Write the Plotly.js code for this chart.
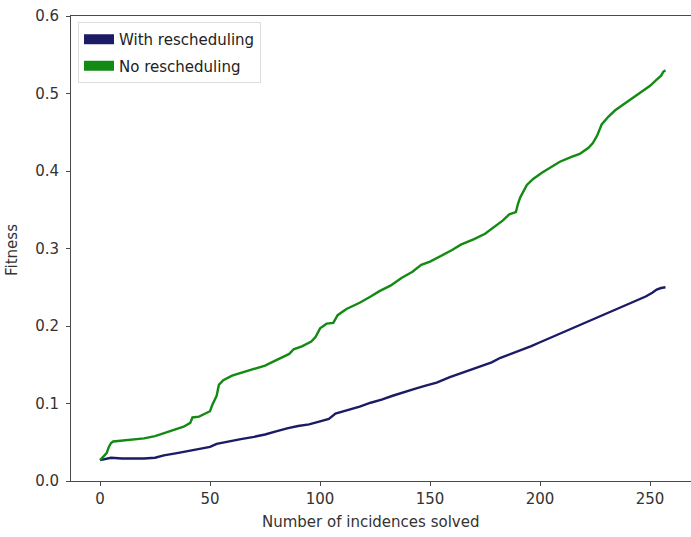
<!DOCTYPE html>
<html>
<head>
<meta charset="utf-8">
<script src="https://cdn.plot.ly/plotly-3.0.1.min.js"></script>
<style>
  html, body { margin: 0; padding: 0; background: #fff; }
  #chart { width: 691px; height: 537px; }
</style>
</head>
<body>
<div id="chart"></div>
<script>
// Fitness as incidences are solved, with and without rescheduling
const incidencesNoResched = [0, 2, 3, 4, 5, 6, 10, 15, 20, 25, 28, 33, 38, 41, 42, 45, 48, 50, 51, 53, 54, 56, 60, 65, 70, 75, 78, 82, 86, 88, 92, 96, 98, 100, 103, 106, 108, 112, 118, 123, 127, 132, 137, 142, 146, 150, 155, 160, 164, 170, 175, 179, 183, 186, 189, 190, 191, 194, 197, 201, 205, 209, 214, 218, 222, 224, 226, 228, 231, 234, 238, 242, 246, 250, 253, 255, 256, 257];
const fitnessNoResched = [0.027, 0.034, 0.036, 0.044, 0.049, 0.051, 0.052, 0.053, 0.055, 0.058, 0.061, 0.066, 0.070, 0.075, 0.082, 0.083, 0.087, 0.090, 0.098, 0.110, 0.124, 0.130, 0.136, 0.140, 0.145, 0.149, 0.153, 0.158, 0.164, 0.170, 0.174, 0.180, 0.186, 0.197, 0.203, 0.204, 0.214, 0.222, 0.230, 0.238, 0.245, 0.252, 0.262, 0.270, 0.279, 0.283, 0.290, 0.298, 0.305, 0.312, 0.319, 0.327, 0.336, 0.344, 0.347, 0.358, 0.366, 0.382, 0.390, 0.398, 0.405, 0.412, 0.418, 0.422, 0.430, 0.436, 0.446, 0.460, 0.470, 0.478, 0.486, 0.494, 0.503, 0.510, 0.518, 0.523, 0.528, 0.530];

const incidencesResched = [0, 3, 5, 10, 15, 20, 25, 29, 35, 41, 47, 50, 53, 58, 64, 70, 75, 80, 85, 90, 95, 100, 104, 107, 112, 118, 123, 128, 133, 138, 143, 148, 153, 159, 164, 170, 175, 178, 182, 187, 192, 196, 200, 204, 208, 212, 216, 220, 224, 228, 232, 236, 240, 244, 248, 251, 253, 255, 257];
const fitnessResched = [0.027, 0.029, 0.030, 0.029, 0.029, 0.029, 0.030, 0.033, 0.036, 0.039, 0.042, 0.044, 0.048, 0.051, 0.054, 0.057, 0.060, 0.064, 0.068, 0.071, 0.073, 0.077, 0.080, 0.087, 0.091, 0.096, 0.101, 0.105, 0.110, 0.115, 0.119, 0.123, 0.127, 0.134, 0.139, 0.144, 0.149, 0.153, 0.159, 0.164, 0.169, 0.174, 0.179, 0.184, 0.188, 0.193, 0.198, 0.203, 0.208, 0.213, 0.218, 0.223, 0.228, 0.234, 0.238, 0.243, 0.247, 0.249, 0.250];

const seriesNames = ['With rescheduling', 'No rescheduling'];
const xTicks = [0, 50, 100, 150, 200, 250];
const yTicks = [0.0, 0.1, 0.2, 0.3, 0.4, 0.5, 0.6];

const colorResched = '#1b1b66';
const colorNoResched = '#138a13';
const font = 'DejaVu Sans, Verdana, sans-serif';
const fontSize = 15;

const traces = [
  {
    x: incidencesResched, y: fitnessResched, type: 'scatter', mode: 'lines',
    name: seriesNames[0], legendgroup: 'a',
    line: { color: colorResched, width: 2.4 }, showlegend: false
  },
  {
    x: incidencesNoResched, y: fitnessNoResched, type: 'scatter', mode: 'lines',
    name: seriesNames[1], legendgroup: 'b',
    line: { color: colorNoResched, width: 2.4 }, showlegend: false
  },
  // legend swatches drawn as thick lines (filled-rectangle look)
  {
    x: [null], y: [null], type: 'scatter', mode: 'lines', name: seriesNames[0],
    legendgroup: 'a', line: { color: colorResched, width: 10 }, hoverinfo: 'skip'
  },
  {
    x: [null], y: [null], type: 'scatter', mode: 'lines', name: seriesNames[1],
    legendgroup: 'b', line: { color: colorNoResched, width: 10 }, hoverinfo: 'skip'
  }
];

const axisCommon = {
  showgrid: false, zeroline: false,
  showline: true, linecolor: '#4a4a4a', linewidth: 1, mirror: true,
  ticks: 'outside', ticklen: 4, tickwidth: 1, tickcolor: '#4a4a4a',
  tickfont: { family: font, size: fontSize, color: '#333' }
};

const layout = {
  width: 691, height: 537,
  margin: { l: 71, r: 0, t: 16, b: 56 },
  paper_bgcolor: '#fff', plot_bgcolor: '#fff',
  font: { family: font, color: '#222' },
  xaxis: Object.assign({}, axisCommon, {
    range: [-13.2, 268.6], tickvals: xTicks, ticktext: xTicks.map(String)
  }),
  yaxis: Object.assign({}, axisCommon, {
    range: [0, 0.6], tickvals: yTicks, ticktext: yTicks.map(v => v.toFixed(1)),
    ticklabelstandoff: 4
  }),
  showlegend: true,
  legend: {
    x: 7 / 620, y: 1 - 6 / 465, xanchor: 'left', yanchor: 'top',
    bgcolor: 'rgba(255,255,255,0.9)', bordercolor: '#dcdcdc', borderwidth: 1,
    font: { family: font, size: fontSize, color: '#222' },
    traceorder: 'grouped', tracegroupgap: 4
  },
  annotations: [
    {
      text: 'Number of incidences solved', xref: 'paper', yref: 'paper',
      x: (370 - 71) / 620, y: -(522 - 481) / 465, xanchor: 'center', yanchor: 'middle',
      showarrow: false, font: { family: font, size: fontSize, color: '#333' }
    },
    {
      text: 'Fitness', xref: 'paper', yref: 'paper', textangle: -90,
      x: -(71 - 12) / 620, y: 1 - (250 - 16) / 465, xanchor: 'center', yanchor: 'middle',
      showarrow: false, font: { family: font, size: fontSize, color: '#333' }
    }
  ]
};

Plotly.newPlot('chart', traces, layout, { displayModeBar: false, staticPlot: true });
</script>
</body>
</html>
